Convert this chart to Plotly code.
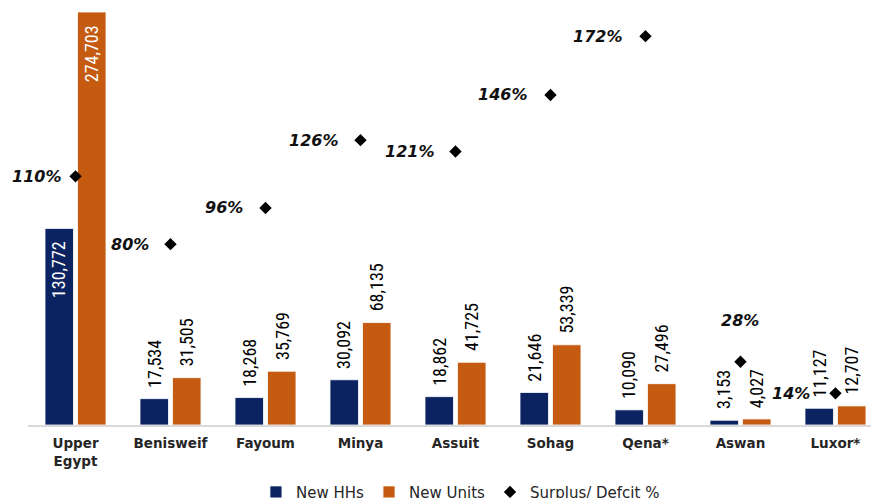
import plotly.graph_objects as go

# Governorates of Upper Egypt
categories = ["Upper<br>Egypt", "Benisweif", "Fayoum", "Minya", "Assuit",
              "Sohag", "Qena*", "Aswan", "Luxor*"]
new_hhs = [130772, 17534, 18268, 30092, 18862, 21646, 10090, 3153, 11127]
new_units = [274703, 31505, 35769, 68135, 41725, 53339, 27496, 4027, 12707]
surplus_pct = [110, 80, 96, 126, 121, 146, 172, 28, 14]

# label placement for the percentage markers (pixels)
pct_dx = [-13, -19, -20, -20, -19, -21, -21, 0, -23]
pct_dy = [0, 0, 0, 0, 0, 0, 0, 41, 0]

NAVY = "#0b2361"
ORANGE = "#c55a11"
BAR_FONT = "Roboto Condensed, Liberation Sans, sans-serif"
SLOT = 16.25  # half the distance between paired bar centres, px

fig = go.Figure()
for name, vals, color in [("New HHs", new_hhs, NAVY), ("New Units", new_units, ORANGE)]:
    fig.add_trace(go.Bar(
        name=name, x=categories, y=vals, marker_color=color,
        marker_line=dict(color="#ffffff", width=0.8),
    ))

fig.add_trace(go.Scatter(
    name="Surplus/ Defcit %", x=categories, y=[v / 100 for v in surplus_pct],
    mode="markers", yaxis="y2", cliponaxis=False,
    marker=dict(symbol="diamond", size=9.5, color="black"),
))

# value labels, rotated; the aggregate column gets its labels inside
for side, vals in [(-SLOT, new_hhs), (SLOT, new_units)]:
    for i, (cat, v) in enumerate(zip(categories, vals)):
        inside = i == 0
        fig.add_annotation(
            x=cat, y=v, text=f"{v:,}", showarrow=False, textangle=-90,
            xanchor="center", yanchor="top" if inside else "bottom",
            xshift=side, yshift=-11 if inside else 9,
            font=dict(family=BAR_FONT, size=18,
                      color="white" if inside else "black"),
        )

for cat, v, dx, dy in zip(categories, surplus_pct, pct_dx, pct_dy):
    fig.add_annotation(
        x=cat, y=v / 100, yref="y2", text=f"{v}%", showarrow=False,
        xanchor="right" if dx else "center", yanchor="middle",
        xshift=dx, yshift=dy,
        font=dict(family="DejaVu Sans", size=16, color="#111111",
                  weight="bold", style="italic"),
    )

fig.update_layout(
    width=871, height=498,
    margin=dict(l=28, r=0, t=0, b=73, autoexpand=False),
    paper_bgcolor="white", plot_bgcolor="white",
    barmode="group", bargap=0.316, bargroupgap=0.123,
    showlegend=True,
    legend=dict(orientation="h", x=0.513, xanchor="center",
                y=-0.158, yanchor="middle",
                font=dict(family="DejaVu Sans", size=15, color="#262626"),
                itemwidth=30, traceorder="normal"),
    xaxis=dict(range=[-0.5, 8.374], showline=True, linecolor="#d9d9d9",
               linewidth=1.5, showgrid=False, ticks="", ticklabelstandoff=5,
               tickfont=dict(family="DejaVu Sans", size=13.5, color="#262626",
                             weight="bold")),
    yaxis=dict(range=[0, 282684], visible=False, showgrid=False, zeroline=False),
    yaxis2=dict(range=[0, 1.88], overlaying="y", visible=False,
                showgrid=False, zeroline=False),
)

fig.write_html("out.html")
